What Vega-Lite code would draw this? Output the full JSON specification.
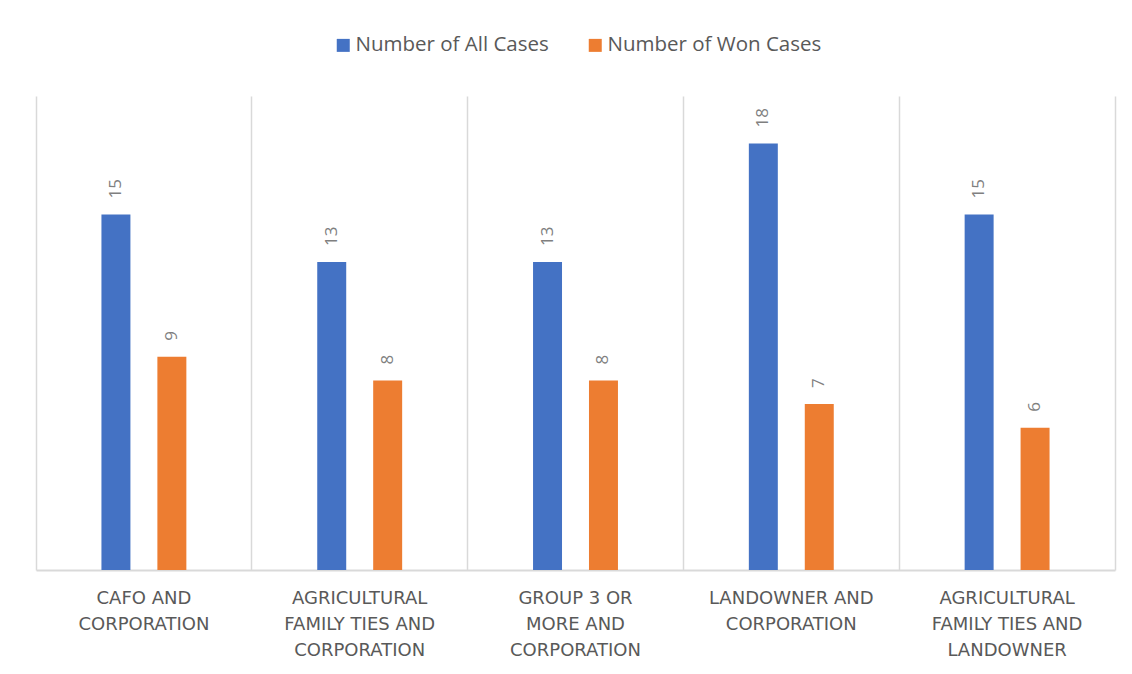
{
  "$schema": "https://vega.github.io/schema/vega-lite/v6.json",
  "width": 1079,
  "height": 474,
  "autosize": {"type": "none"},
  "padding": {"left": 36, "top": 96, "right": 17, "bottom": 104},
  "background": "white",
  "config": {
    "font": "Open Sans",
    "view": {"stroke": null}
  },
  "data": {
    "values": [
      {"category": "CAFO AND CORPORATION", "series": "Number of All Cases", "value": 15},
      {"category": "CAFO AND CORPORATION", "series": "Number of Won Cases", "value": 9},
      {"category": "AGRICULTURAL FAMILY TIES AND CORPORATION", "series": "Number of All Cases", "value": 13},
      {"category": "AGRICULTURAL FAMILY TIES AND CORPORATION", "series": "Number of Won Cases", "value": 8},
      {"category": "GROUP 3 OR MORE AND CORPORATION", "series": "Number of All Cases", "value": 13},
      {"category": "GROUP 3 OR MORE AND CORPORATION", "series": "Number of Won Cases", "value": 8},
      {"category": "LANDOWNER AND CORPORATION", "series": "Number of All Cases", "value": 18},
      {"category": "LANDOWNER AND CORPORATION", "series": "Number of Won Cases", "value": 7},
      {"category": "AGRICULTURAL FAMILY TIES AND LANDOWNER", "series": "Number of All Cases", "value": 15},
      {"category": "AGRICULTURAL FAMILY TIES AND LANDOWNER", "series": "Number of Won Cases", "value": 6}
    ]
  },
  "encoding": {
    "x": {
      "field": "category",
      "type": "nominal",
      "sort": null,
      "scale": {"paddingInner": 0.6065, "paddingOuter": 0.30325},
      "axis": {
        "title": null,
        "labelAngle": 0,
        "labelFont": "DejaVu Sans",
        "labelFontSize": 18,
        "labelColor": "#595959",
        "labelLimit": 0,
        "labelLineHeight": 26,
        "labelPadding": 19,
        "labelBaseline": "top",
        "ticks": false,
        "domainColor": "#d9d9d9",
        "domainWidth": 2,
        "grid": true,
        "gridColor": "#d9d9d9",
        "gridWidth": 1.5,
        "bandPosition": 1.771,
        "labelExpr": "datum.value == 'CAFO AND CORPORATION' ? ['CAFO AND', 'CORPORATION'] : datum.value == 'AGRICULTURAL FAMILY TIES AND CORPORATION' ? ['AGRICULTURAL', 'FAMILY TIES AND', 'CORPORATION'] : datum.value == 'GROUP 3 OR MORE AND CORPORATION' ? ['GROUP 3 OR', 'MORE AND', 'CORPORATION'] : datum.value == 'LANDOWNER AND CORPORATION' ? ['LANDOWNER AND', 'CORPORATION'] : ['AGRICULTURAL', 'FAMILY TIES AND', 'LANDOWNER']"
      }
    },
    "xOffset": {
      "field": "series",
      "type": "nominal",
      "scale": {"paddingInner": 0.482, "paddingOuter": 0}
    },
    "y": {
      "field": "value",
      "type": "quantitative",
      "scale": {"domain": [0, 20], "nice": false},
      "axis": {
        "title": null,
        "labels": false,
        "ticks": false,
        "grid": false,
        "domain": true,
        "domainColor": "#d9d9d9",
        "domainWidth": 1.5
      }
    }
  },
  "layer": [
    {
      "mark": {"type": "bar"},
      "encoding": {
        "color": {
          "field": "series",
          "type": "nominal",
          "scale": {"domain": ["Number of All Cases", "Number of Won Cases"], "range": ["#4472C4", "#ED7D31"]},
          "legend": {
            "title": null,
            "orient": "none",
            "legendX": 297,
            "legendY": -61,
            "direction": "horizontal",
            "symbolType": "square",
            "symbolSize": 169,
            "symbolStrokeWidth": 0,
            "labelFontSize": 20.5,
            "labelColor": "#595959",
            "labelLimit": 0,
            "labelOffset": 2,
            "columnPadding": 36
          }
        }
      }
    },
    {
      "mark": {"type": "text", "angle": 270, "align": "left", "baseline": "middle", "dx": 16, "fontSize": 17, "color": "#7f7f7f"},
      "encoding": {
        "text": {"field": "value", "type": "quantitative"}
      }
    }
  ]
}
